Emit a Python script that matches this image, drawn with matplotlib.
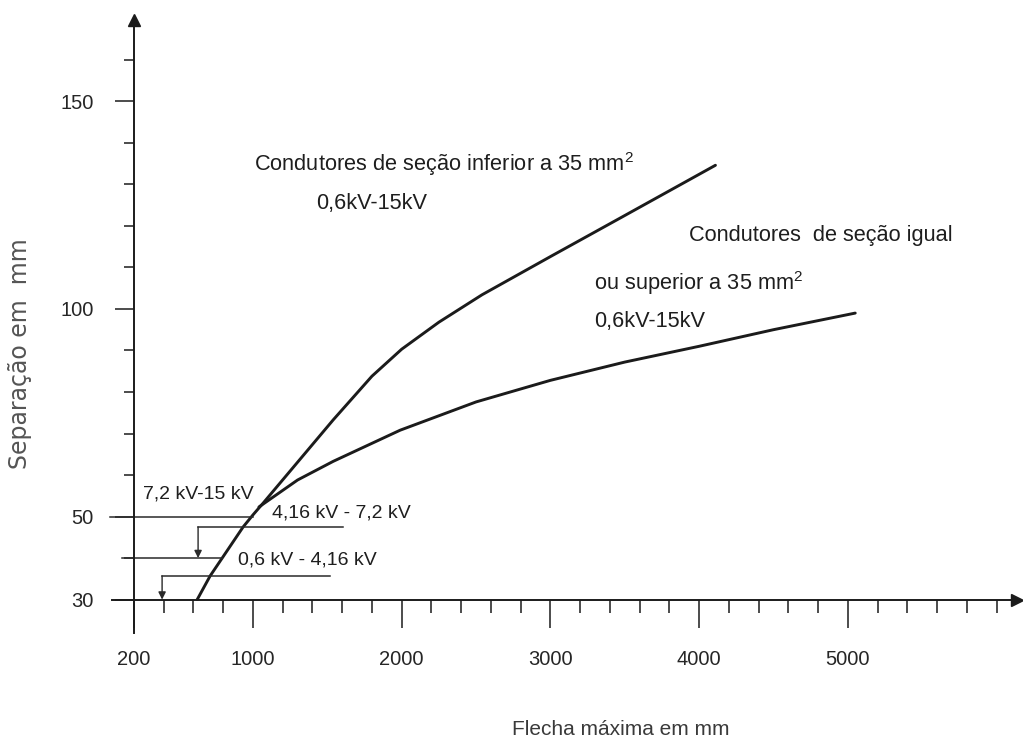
import matplotlib
matplotlib.use('Agg')
import matplotlib.pyplot as plt
import numpy as np

# curva: condutores de secao inferior a 35 mm2 (flecha mm, separacao mm)
sup_x = [625, 712, 793, 934, 1000, 1070, 1540, 1800, 2000, 2250, 2540, 3010, 3480, 4110]
sup_y = [30, 35.7, 40, 47.5, 50.4, 53.3, 73.3, 83.8, 90.3, 96.8, 103.4, 112.8, 122.1, 134.6]

# curva: condutores de secao igual ou superior a 35 mm2
inf_x = [1040, 1300, 1540, 1990, 2500, 3000, 3500, 4000, 4500, 5050]
inf_y = [52.3, 58.8, 63.3, 70.8, 77.6, 82.8, 87.2, 91.0, 95.0, 99.0]

# linhas de referencia das faixas de tensao: nivel, x inicial, x final
ref_nivel = [50, 47.5, 40, 35.7]
ref_x0 = [38, 631, 119, 389]
ref_x1 = [1000, 1607, 793, 1520]
# setas verticais: x, de, ate
seta_x = [631, 389]
seta_de = [47.5, 35.7]
seta_ate = [40, 30]

x_major = [200, 1000, 2000, 3000, 4000, 5000]
x_labels = ['200', '1000', '2000', '3000', '4000', '5000']
x_minor = list(range(400, 6001, 200))
y_major = [30, 50, 100, 150]
y_labels = ['30', '50', '100', '150']
y_minor = [40, 60, 70, 80, 90, 110, 120, 130, 140, 160]

FONT = ['Liberation Sans', 'DejaVu Sans']
INK = '#1b1b1b'
plt.rcParams['mathtext.fontset'] = 'custom'
plt.rcParams['mathtext.rm'] = 'Liberation Sans'
plt.rcParams['mathtext.default'] = 'rm'

fig = plt.figure(figsize=(10.23, 7.47), dpi=100)
ax = fig.add_axes([0, 0, 1, 1])
ax.set_xlim(-701, 6178)
ax.set_ylim(-5.5, 174.4)

# eixos
for s in ['top', 'right']:
    ax.spines[s].set_visible(False)
ax.spines['left'].set_position(('data', 200))
ax.spines['bottom'].set_position(('data', 30))
ax.spines['left'].set_bounds(22, 168)
ax.spines['bottom'].set_bounds(52, 6110)
for s in ['left', 'bottom']:
    ax.spines[s].set_linewidth(1.4)
    ax.spines[s].set_color(INK)
ax.plot([200], [169.5], marker='^', ms=9, color=INK, clip_on=False)
ax.plot([6135], [30], marker='>', ms=9, color=INK, clip_on=False)

ax.set_xticks(x_major)
ax.set_xticklabels(x_labels)
ax.set_xticks([v for v in x_minor if v not in x_major], minor=True)
ax.set_yticks(y_major)
ax.set_yticklabels(y_labels)
ax.set_yticks(y_minor, minor=True)
ax.tick_params(axis='x', which='major', direction='out', length=20, width=1.1,
               color=INK, pad=16, labelsize=14.5, labelcolor='#262626')
ax.tick_params(axis='x', which='minor', direction='out', length=9.5, width=1.1, color=INK)
ax.tick_params(axis='y', which='major', direction='out', length=14, width=1.1,
               color=INK, pad=15, labelsize=14.5, labelcolor='#262626')
ax.tick_params(axis='y', which='minor', direction='out', length=7, width=1.1, color=INK)
for lab in ax.get_xticklabels() + ax.get_yticklabels():
    lab.set_family(FONT)

# curvas
ax.plot(sup_x, sup_y, color=INK, lw=2.1, solid_capstyle='round', solid_joinstyle='round')
ax.plot(inf_x, inf_y, color=INK, lw=2.1, solid_capstyle='round', solid_joinstyle='round')

# linhas e setas das faixas de tensao
for nv, a, b in zip(ref_nivel, ref_x0, ref_x1):
    ax.plot([a, b], [nv, nv], color='#2a2a2a', lw=1.1, clip_on=False)
for sx, a, b in zip(seta_x, seta_de, seta_ate):
    ax.annotate('', xy=(sx, b), xytext=(sx, a),
                arrowprops=dict(arrowstyle='-|>', color='#2a2a2a', lw=1.0,
                                mutation_scale=11, shrinkA=0, shrinkB=0))

tk = dict(family=FONT, color='#1e1e1e', va='center', ha='left')
ax.text(261, 55.5, '7,2 kV-15 kV', fontsize=14, **tk)
ax.text(1129, 50.9, '4,16 kV - 7,2 kV', fontsize=14, **tk)
ax.text(900, 39.6, '0,6 kV - 4,16 kV', fontsize=14, **tk)

ax.text(1008, 134.9, 'Condutores de seção inferior a 35 mm$^{2}$', fontsize=15.7, **tk)
ax.text(1426, 125.5, '0,6kV-15kV', fontsize=15.7, **tk)
ax.text(3931, 117.6, 'Condutores  de seção igual', fontsize=15.7, **tk)
ax.text(3291, 106.2, 'ou superior a 35 mm$^{2}$', fontsize=15.7, **tk)
ax.text(3291, 96.9, '0,6kV-15kV', fontsize=15.7, **tk)

# titulos dos eixos
fig.text(0.607, 0.023, 'Flecha máxima em mm', fontsize=15, family=FONT,
         color='#3a3a3a', ha='center', va='center')
fig.text(0.02, 0.526, 'Separação em  mm', fontsize=17, family='DejaVu Sans',
         color='#555555', ha='center', va='center', rotation=90)

fig.savefig('out.png', dpi=100, facecolor='white')
